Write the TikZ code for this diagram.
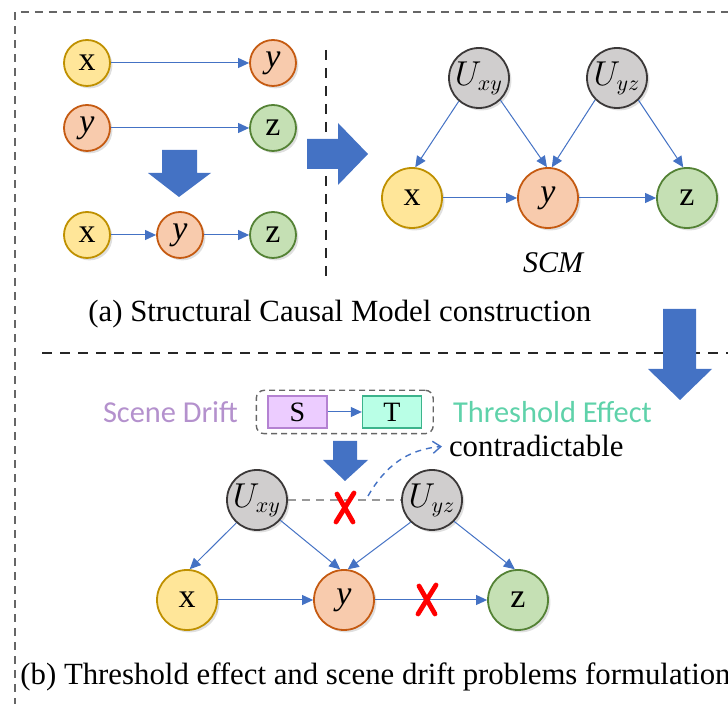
\documentclass[tikz,border=0pt]{standalone}
\usepackage{fontspec}
\setmainfont{Liberation Serif}
\newfontfamily\calibrifont{Carlito}
\usetikzlibrary{arrows.meta,shadows,fit}

\definecolor{blueline}{RGB}{68,114,196}
\definecolor{xfill}{RGB}{255,230,153}
\definecolor{xdraw}{RGB}{191,144,0}
\definecolor{yfill}{RGB}{248,203,173}
\definecolor{ydraw}{RGB}{197,90,17}
\definecolor{zfill}{RGB}{197,224,180}
\definecolor{zdraw}{RGB}{84,130,53}
\definecolor{ufill}{RGB}{208,206,206}
\definecolor{udraw}{RGB}{59,56,56}
\definecolor{sfill}{RGB}{236,204,255}
\definecolor{sdraw}{RGB}{180,130,210}
\definecolor{tfill}{RGB}{185,255,230}
\definecolor{tdraw}{RGB}{60,180,140}
\definecolor{scenecol}{RGB}{180,145,205}
\definecolor{threshcol}{RGB}{95,210,170}

\tikzset{
  var/.style={circle, draw, line width=0.9pt, inner sep=0pt,
    font=\fontsize{17}{17}\selectfont,
    drop shadow={shadow xshift=1.2pt, shadow yshift=-1.2pt, opacity=0.25}},
  smallvar/.style={minimum size=23pt},
  bigvar/.style={minimum size=30pt},
  varx/.style={var, fill=xfill, draw=xdraw},
  vary/.style={var, fill=yfill, draw=ydraw},
  varz/.style={var, fill=zfill, draw=zdraw},
  varu/.style={var, fill=ufill, draw=udraw, font=\fontsize{16}{16}\selectfont},
  link/.style={draw=blueline, line width=0.5pt, -{Triangle[length=5.5pt,width=5pt]}},
  blockarrow/.style={fill=blueline},
  sepline/.style={draw=black!85, line width=1.2pt, dash pattern=on 5pt off 4pt},
  outerline/.style={draw=black!60, line width=0.7pt, dash pattern=on 4pt off 3pt},
  crossline/.style={red, line width=2.4pt, line cap=round},
  caption/.style={font=\fontsize{15.4}{18}\selectfont, anchor=base west, inner sep=0pt},
  labelbox/.style={draw, line width=0.7pt, minimum width=29.5pt, minimum height=16pt,
    inner sep=0pt, font=\fontsize{14}{14}\selectfont},
  redcross/.pic={
    \draw[crossline] (-8,-14) -- (8,14);
    \draw[crossline] (9,-15) -- (-9,14);
  },
}

\begin{document}
\begin{tikzpicture}[x=0.5pt, y=-0.5pt]
  \useasboundingbox (0,0) rectangle (728,704);
  \clip (0,0) rectangle (728,704);
  \draw[outerline] (15,720) -- (15,12) -- (740,12);

  % (a) single links and their merge
  \node[varx, smallvar] (r1x) at (87,63) {x};
  \node[vary, smallvar] (r1y) at (273,63) {\textit{y}};
  \node[vary, smallvar] (r2y) at (87,128) {\textit{y}};
  \node[varz, smallvar] (r2z) at (273,128) {z};
  \node[varx, smallvar] (r3x) at (87,235) {x};
  \node[vary, smallvar] (r3y) at (180,235) {\textit{y}};
  \node[varz, smallvar] (r3z) at (273,235) {z};
  \draw[link] (r1x) -- (r1y);
  \draw[link] (r2y) -- (r2z);
  \draw[link] (r3x) -- (r3y);
  \draw[link] (r3y) -- (r3z);
  \fill[blockarrow] (162,150) -- (197,150) -- (197,173) -- (211,173) -- (179,197) -- (148,173) -- (162,173) -- cycle;

  \draw[sepline] (326,50) -- (326,278);
  \fill[blockarrow] (307,139) -- (338,139) -- (338,123) -- (368,154) -- (338,185) -- (338,169) -- (307,169) -- cycle;

  % (a) SCM
  \node[varu, bigvar] (sUxy) at (479,78) {$U_{xy}$};
  \node[varu, bigvar] (sUyz) at (617,78) {$U_{yz}$};
  \node[varx, bigvar] (sX) at (412,198) {x};
  \node[vary, bigvar] (sY) at (548,198) {\textit{y}};
  \node[varz, bigvar] (sZ) at (687,198) {z};
  \draw[link] (sUxy.229) -- (sX.84);
  \draw[link] (sUxy.314) -- (sY.92);
  \draw[link] (sUyz.225) -- (sY.83);
  \draw[link] (sUyz.314) -- (sZ.97);
  \draw[link] (sX) -- (sY);
  \draw[link] (sY) -- (sZ);
  \node[font=\fontsize{15}{15}\selectfont\itshape] (scm) at (553,263) {SCM};

  \node[caption] (capa) at (88,322) {(a) Structural Causal Model construction};
  \draw[sepline] (42,353) -- (728,353);
  \fill[blockarrow] (663,309) -- (696,309) -- (696,369) -- (712,369) -- (680,400) -- (648,369) -- (663,369) -- cycle;

  % (b) scene drift / threshold effect
  \node[labelbox, fill=sfill, draw=sdraw] (S) at (297.5,412) {S};
  \node[labelbox, fill=tfill, draw=tdraw] (T) at (392,412) {T};
  \draw[link] (S) -- (T);
  \node[fit=(S)(T), draw=black!60, line width=0.7pt, dash pattern=on 3pt off 2pt,
    rounded corners=4pt, inner xsep=5.5pt, inner ysep=2.5pt] (group) {};
  \node[anchor=east, text=scenecol, font=\calibrifont\fontsize{15.2}{15.2}\selectfont] (scene) at (245,412) {Scene Drift};
  \node[anchor=west, text=threshcol, font=\calibrifont\fontsize{15.2}{15.2}\selectfont] (thresh) at (446,412) {Threshold Effect};
  \fill[blockarrow] (333,441) -- (357,441) -- (357,460) -- (368,460) -- (345,481) -- (323,460) -- (333,460) -- cycle;
  \node[anchor=base west, font=\fontsize{15.4}{15.4}\selectfont] (contra) at (442,457) {contradictable};

  \node[varu, bigvar] (bUxy) at (257,500) {$U_{xy}$};
  \node[varu, bigvar] (bUyz) at (432,500) {$U_{yz}$};
  \node[varx, bigvar] (bX) at (187,600) {x};
  \node[vary, bigvar] (bY) at (344,600) {\textit{y}};
  \node[varz, bigvar] (bZ) at (518,600) {z};
  \draw[black!40, line width=1pt, dash pattern=on 4pt off 3pt] (bUxy) -- (bUyz);
  \coordinate (cstart) at (368,496);
  \draw[blueline, line width=0.7pt, dash pattern=on 3pt off 2.5pt, -{Straight Barb[length=4pt,width=6pt]}]
    (cstart) to[out=60, in=185] (contra.west);
  \draw[link] (bUxy.228) -- (bX.85);
  \draw[link] (bUxy.319) -- (bY.97);
  \draw[link] (bUyz.226) -- (bY.83);
  \draw[link] (bUyz.316) -- (bZ.96);
  \draw[link] (bX) -- (bY);
  \draw[link] (bY) -- (bZ);
  \pic at (345,508) {redcross};
  \pic at (427,600) {redcross};

  \node[caption] (capb) at (20,685) {(b) Threshold effect and scene drift problems formulation};
\end{tikzpicture}
\end{document}
